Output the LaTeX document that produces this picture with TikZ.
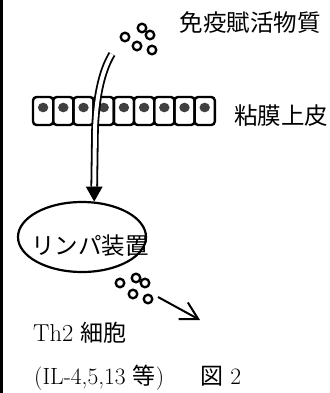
\documentclass[tikz,border=0pt]{standalone}
\usepackage{fontspec}
\newfontfamily\cjk{Noto Sans CJK JP}
\usetikzlibrary{arrows.meta,calc,shapes.geometric}
\tikzset{
  lbl/.style={inner sep=0pt, font=\fontsize{23.5}{26}\selectfont},
  granule/.style={draw, line width=2.3pt},
  cellbox/.style={draw, line width=2.4pt, rounded corners=3.5pt},
  dbl/.style={double, double distance=4pt, line width=1.8pt},
  thinarrow/.style={line width=2pt, -{Straight Barb[length=17pt,width=19pt,line width=2pt]}},
}
\begin{document}
\begin{tikzpicture}[x=1pt,y=-1pt]
\useasboundingbox (0,0) rectangle (329,393);
\fill (0,0) rectangle (2.8,393);
% labels
\node[lbl] (act) at (250,23) {\cjk 免疫賦活物質};
\node[lbl] (epi) at (281,116) {\cjk 粘膜上皮};
% granules top
\foreach \x/\y in {125/37,142/28,150/35,137/46,152/50}
  \draw[granule] (\x,\y) circle (4.3);
% epithelium cells
\foreach \i in {0,...,8}{
  \draw[cellbox] ({33+20.2*\i},97) rectangle ({33+20.2*(\i+1)},125);
  \fill[black!75] ({43.1+20.2*\i},107.5) ellipse (5.2 and 4.8);
}
% lymph ellipse
\node[draw, line width=2.2pt, ellipse, minimum width=128, minimum height=70, inner sep=0pt] (lymph) at (82,237) {};
\node[lbl] (lymtxt) at (90,246) {\cjk リンパ装置};
% double arrow
\coordinate (src) at (112,54);
\coordinate (tip) at (lymph.71);
\coordinate (tipbase) at ($(tip)+(0,-15)$);
\draw[dbl] (src) .. controls (101,72) and (96,100) .. (95,130) -- (tipbase);
\fill (tipbase) ++(-8.5,0) -- ++(17,0) -- (tip) -- cycle;
% granules bottom
\foreach \x/\y in {120/283,136/278,145/283,133/294,148/299}
  \draw[granule] (\x,\y) circle (4.3);
\coordinate (a1) at (158,297);
\coordinate (a2) at (200,320);
\draw[thinarrow] (a1) -- (a2);
% bottom texts
\node[lbl, anchor=west, font=\fontsize{24.5}{26}\selectfont] (th2) at (33,333) {Th2 {\cjk\fontsize{23}{26}\selectfont 細胞}};
\node[lbl, anchor=west, font=\fontsize{23.5}{26}\selectfont] (il) at (34,378) {(IL-4,5,13 {\cjk\fontsize{23}{26}\selectfont 等})\hspace{36pt}{\cjk\fontsize{23}{26}\selectfont 図} 2};
\end{tikzpicture}
\end{document}
